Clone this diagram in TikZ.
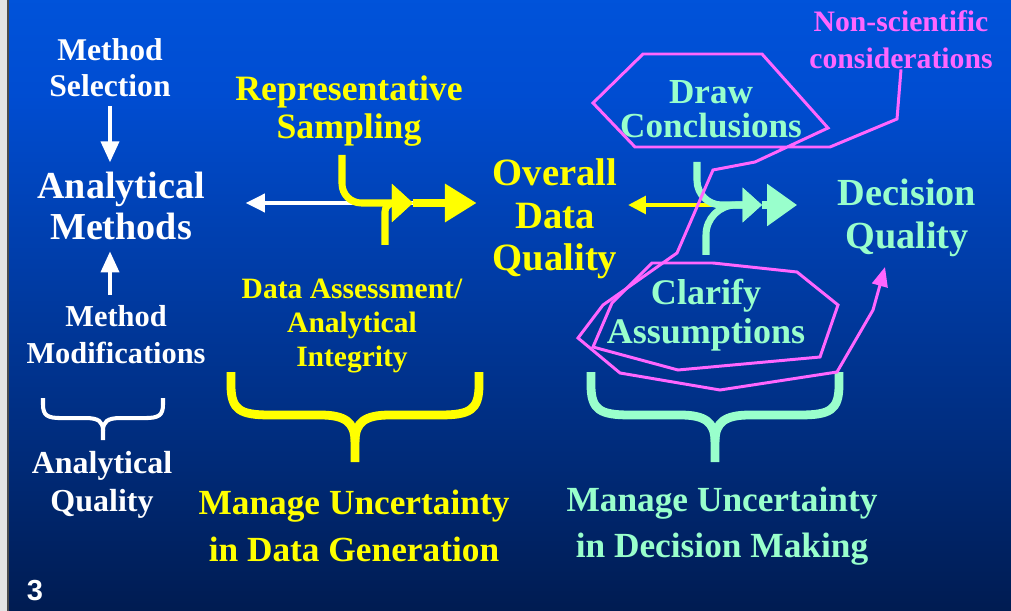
\documentclass[tikz,border=0pt]{standalone}
\usepackage{fontspec}
\setmainfont{Liberation Serif}
\setsansfont{Liberation Sans}
\usetikzlibrary{arrows.meta, positioning}
\definecolor{mainYellow}{RGB}{255,255,0}
\definecolor{mainTeal}{RGB}{153,255,204}
\definecolor{mainPink}{RGB}{255,102,255}
\definecolor{edgeGray}{RGB}{228,228,228}
\pgfdeclareverticalshading{slideShade}{100bp}{rgb(0bp)=(0,0,0.02); rgb(13bp)=(0,0.05,0.17); rgb(38bp)=(0,0.17,0.48); rgb(67bp)=(0,0.30,0.82); rgb(100bp)=(0,0.40,0.96)}
\newcommand{\fs}[2]{\fontsize{#1pt}{#2pt}\selectfont\bfseries}
\tikzset{
  curly/.pic={
    \draw (-124,0) -- (-124,13) .. controls (-124,38) and (-115,43) .. (-85,43) -- (-35,43) .. controls (-10,43) and (0,50) .. (0,70) -- (0,90);
    \draw (124,0) -- (124,13) .. controls (124,38) and (115,43) .. (85,43) -- (35,43) .. controls (10,43) and (0,50) .. (0,70);
  }
}

\begin{document}
\begin{tikzpicture}[x=0.02cm, y=-0.02cm,
    lbl/.style={align=center, inner sep=0pt},
    wvert/.style={white, line width=2.6pt, -{Triangle[width=10pt,length=12pt]}},
    flowY/.style={mainYellow, line width=4pt},
    flowT/.style={mainTeal, line width=4pt},
    pinkline/.style={mainPink, line width=1.7pt, line join=miter}]
    \useasboundingbox (0,0) rectangle (1011,611);
    \shade[shading=slideShade] (0,0) rectangle (1011,611);
    \fill[edgeGray] (0,0) rectangle (7,611);
    \draw[black!70, line width=1pt] (7.8,0) -- (7.8,611);

    % analytical quality
    \node[lbl, white, font=\fs{18}{20.5}] (sel) at (110,68) {Method\\Selection};
    \node[lbl, white, font=\fs{21.7}{23.8}] (meth) at (121,206) {Analytical\\Methods};
    \node[lbl, white, font=\fs{17.3}{21}] (mod) at (116,335) {Method\\Modifications};
    \node[lbl, white, font=\fs{18.2}{21.5}] (aq) at (102,485) {Analytical\\Quality};
    \node[lbl, white, font=\sffamily\bfseries\fontsize{16.5}{18}\selectfont] (num) at (35,591) {3};

    \draw[wvert, shorten <=5pt, shorten >=5pt] (sel.south) -- (sel.south |- meth.north);
    \draw[wvert, shorten <=6pt, shorten >=6pt] (mod.north -| sel.south) -- (sel.south |- meth.south);
    \pic[white, line width=2.3pt, xscale=0.484, yscale=0.467] at (103,398) {curly};

    % data generation
    \node[lbl, mainYellow, font=\fs{20.3}{22.1}] (rep) at (349,111) {Representative\\Sampling};
    \node[lbl, mainYellow, font=\fs{22}{24.1}] (ovq) at (555,219) {Overall\\Data\\Quality};
    \node[lbl, mainYellow, font=\fs{16.8}{19.6}] (das) at (352,326) {Data Assessment/\\Analytical\\Integrity};
    \node[lbl, mainYellow, font=\fs{20.1}{26.5}] (mug) at (354,526) {Manage Uncertainty\\in Data Generation};
    \pic[mainYellow, line width=5pt] at (355,372) {curly};

    \coordinate (ytop) at (342,155);
    \coordinate (ybot) at (385,245);
    \coordinate (yjoin) at (413,203);
    \draw[white, line width=2.6pt, {Triangle[width=10pt,length=11pt]}-{Triangle[width=10pt,length=11pt]}, shorten <=23pt, shorten >=11pt] (meth.east |- yjoin) -- (yjoin -| ovq.west);
    \draw[flowY, rounded corners=11pt, -{Triangle[width=21pt,length=12pt]}] (ytop) |- (yjoin);
    \draw[flowY, rounded corners=5pt, -{Triangle[width=21pt,length=12pt]}] (ybot) |- (yjoin);
    \draw[flowY, -{Triangle[width=21pt,length=18pt]}, shorten >=9pt] (yjoin) -- (yjoin -| ovq.west);

    % decision making
    \node[lbl, mainTeal, font=\fs{20}{19.3}] (dc) at (711,109) {Draw\\Conclusions};
    \node[lbl, mainTeal, font=\fs{21.8}{24.4}] (dq) at (907,218) {Decision\\Quality};
    \node[lbl, mainTeal, font=\fs{20.5}{22.1}] (ca) at (706,315) {Clarify\\Assumptions};
    \node[lbl, mainTeal, font=\fs{20.1}{26.5}] (mum) at (722,526) {Manage Uncertainty\\in Decision Making};
    \node[lbl, mainPink, font=\fs{16.9}{21}] (nsc) at (901,40) {Non-scientific\\considerations};
    \pic[mainTeal, line width=5pt] at (715,372) {curly};

    \coordinate (ttop) at (697,162);
    \coordinate (tbot) at (706,255);
    \coordinate (tjoin) at (762,205);
    \draw[mainYellow, line width=2pt, -{Triangle[width=10pt,length=10pt]}, shorten <=14pt, shorten >=6pt] (tjoin) -- (tjoin -| ovq.east);
    \draw[flowT, rounded corners=14pt, -{Triangle[width=19pt,length=11pt]}] (ttop) |- (tjoin);
    \draw[flowT, rounded corners=17pt, -{Triangle[width=19pt,length=11pt]}] (tbot) |- (tjoin);
    \draw[flowT, -{Triangle[width=23pt,length=17pt]}, shorten >=23pt] (tjoin) -- (tjoin -| dq.west);

    % non-scientific considerations
    \coordinate (dqin) at (885,267);
    \draw[pinkline, -{Triangle[width=9pt,length=11pt]}] (nsc.south) -- (897,119) -- (830,147) -- (635,147) -- (593,103) -- (643,54) -- (762,54) -- (828,128) -- (755,162) -- (713,170) -- (677,253) -- (603,305) -- (578,338) -- (620,373) -- (720,390) -- (837,372) -- (873,310) -- (dqin);
    \draw[pinkline] (652,263) -- (713,263) -- (797,272) -- (838,305) -- (820,357) -- (678,370) -- (593,347) -- (612,303) -- cycle;
\end{tikzpicture}
\end{document}
